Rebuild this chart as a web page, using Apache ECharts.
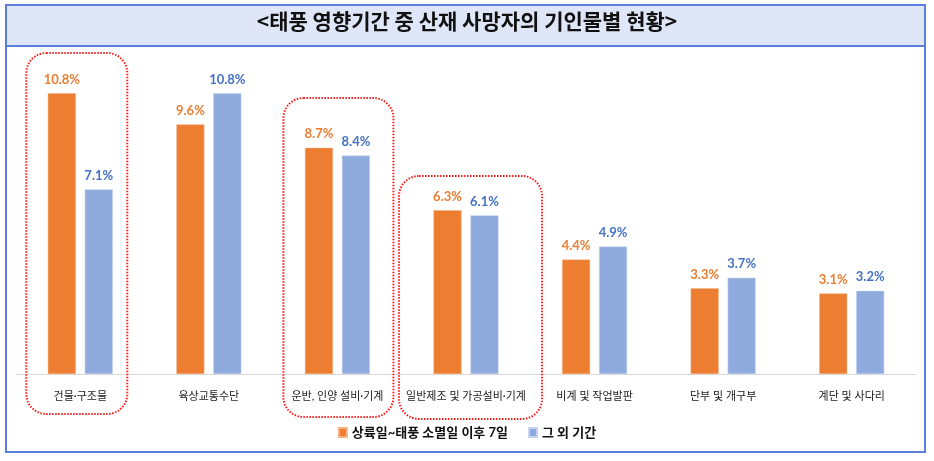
<!DOCTYPE html>
<html>
<head>
<meta charset="utf-8">
<script src="https://cdn.jsdelivr.net/npm/echarts@6/dist/echarts.min.js"></script>
<style>
html,body{margin:0;padding:0;background:#fff;}
#chart{width:934px;height:461px;}
</style>
</head>
<body>
<div id="chart"></div>
<script>
const titleText = '<태풍 영향기간 중 산재 사망자의 기인물별 현황>';
const categories = ['건물·구조물', '육상교통수단', '운반, 인양 설비·기계', '일반제조 및 가공설비·기계', '비계 및 작업발판', '단부 및 개구부', '계단 및 사다리'];
const seriesNames = ['상륙일~태풍 소멸일 이후 7일', '그 외 기간'];
const landfallValues = [10.8, 9.6, 8.7, 6.3, 4.4, 3.3, 3.1];
const otherValues = [7.1, 10.8, 8.4, 6.1, 4.9, 3.7, 3.2];
// highlighted categories (dotted red boxes)
const highlighted = [0, 2, 3];

const KR = '"Noto Sans CJK KR", "Noto Sans", sans-serif';
const MIX = 'Lato, "Noto Sans CJK KR", sans-serif';
const NUM = 'Lato, "Noto Sans", sans-serif';

const chart = echarts.init(document.getElementById('chart'));

function labelCfg(color) {
  return {
    show: true, position: 'top', distance: 7,
    formatter: p => p.value.toFixed(1) + '%',
    color: color, fontFamily: NUM, fontWeight: 'bold', fontSize: 13
  };
}

const option = {
  animation: false,
  backgroundColor: '#ffffff',
  grid: { left: 16, right: 18, top: 62, bottom: 87, containLabel: false },
  legend: {
    data: seriesNames,
    left: 'center', top: 421,
    itemWidth: 8, itemHeight: 9, itemGap: 20,
    icon: 'rect',
    textStyle: { fontFamily: MIX, fontWeight: 'bold', fontSize: 13, color: '#111' }
  },
  xAxis: {
    type: 'category',
    data: categories,
    axisLine: { show: true, lineStyle: { color: '#d9d9d9', width: 1 } },
    axisTick: { show: false },
    axisLabel: { interval: 0, margin: 17, color: '#1a1a1a', fontFamily: MIX, fontSize: 11 }
  },
  yAxis: {
    type: 'value', min: 0, max: 12,
    show: false,
    splitLine: { show: false }
  },
  series: [
    {
      name: seriesNames[0], type: 'bar', data: landfallValues,
      barWidth: 28, barGap: '32%',
      itemStyle: { color: '#ed7d31', borderColor: '#f4b183', borderWidth: 0.5 },
      label: labelCfg('#ed7d31')
    },
    {
      name: seriesNames[1], type: 'bar', data: otherValues,
      barWidth: 28,
      itemStyle: { color: '#8faadc', borderColor: '#c5d3ef', borderWidth: 0.5 },
      label: labelCfg('#4472c4')
    }
  ]
};
chart.setOption(option);

// frame, title bar and dotted annotation boxes
const boxSpecs = [
  { cat: 0, top: 53, bottom: 414, l: 54, r: 47 },
  { cat: 2, top: 98, bottom: 417, l: 54, r: 56 },
  { cat: 3, top: 176, bottom: 419, l: 67, r: 76 }
];
const graphics = [
  { type: 'rect', z: 0, silent: true,
    shape: { x: 6, y: 5, width: 919, height: 447 },
    style: { fill: 'none', stroke: '#5b7fdc', lineWidth: 2 } },
  { type: 'rect', z: 1, silent: true,
    shape: { x: 6, y: 5, width: 919, height: 41 },
    style: { fill: '#dfe6f7', stroke: '#5b7fdc', lineWidth: 2 } },
  { type: 'text', z: 2, silent: true, left: 'center', top: 11,
    style: { text: titleText, fontFamily: KR, fontWeight: 'bold', fontSize: 21, fill: '#111' } }
];
boxSpecs.forEach(b => {
  const cx = chart.convertToPixel({ xAxisIndex: 0 }, categories[b.cat]);
  graphics.push({
    type: 'rect', z: 5, silent: true,
    shape: { x: cx - b.l, y: b.top, width: b.l + b.r, height: b.bottom - b.top, r: 20 },
    style: { fill: 'none', stroke: '#ff1a1a', lineWidth: 2, lineDash: [1.5, 1.5] }
  });
});
chart.setOption({ graphic: graphics });
</script>
</body>
</html>
